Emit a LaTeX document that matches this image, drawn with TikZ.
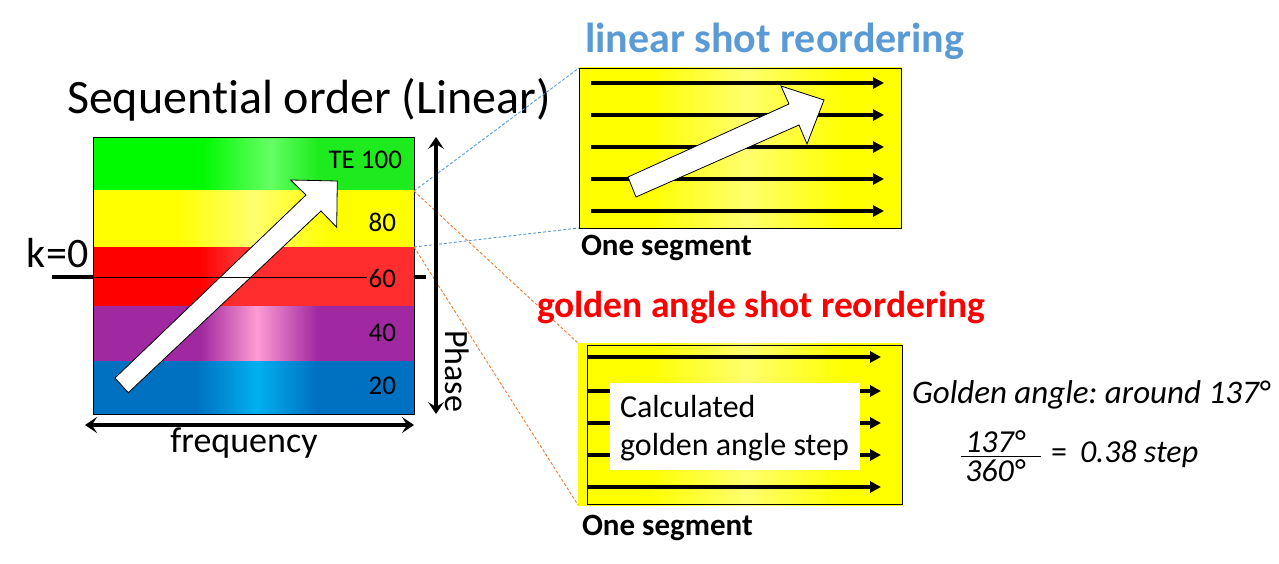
\documentclass[tikz,border=0pt]{standalone}
\usepackage{fontspec}
\setmainfont{Carlito}[Ligatures={NoCommon}]
\usetikzlibrary{arrows.meta}
\frenchspacing
\definecolor{gA}{RGB}{0,250,0}
\definecolor{gB}{RGB}{100,255,100}
\definecolor{gC}{RGB}{30,235,30}
\definecolor{yA}{RGB}{255,255,0}
\definecolor{yB}{RGB}{255,255,110}
\definecolor{rA}{RGB}{255,0,0}
\definecolor{rB}{RGB}{255,45,45}
\definecolor{pA}{RGB}{160,40,160}
\definecolor{pB}{RGB}{255,155,210}
\definecolor{bA}{RGB}{0,112,192}
\definecolor{bB}{RGB}{0,176,240}
\definecolor{titleblue}{RGB}{91,155,213}
\definecolor{dashorange}{RGB}{237,125,49}
\pgfdeclarehorizontalshading{greenband}{100bp}{color(0bp)=(gA); color(42bp)=(gA); color(52.5bp)=(gB); color(60bp)=(gC); color(100bp)=(gC)}
\pgfdeclarehorizontalshading{yellowband}{100bp}{color(0bp)=(yA); color(38bp)=(yA); color(50bp)=(yB); color(62bp)=(yA); color(100bp)=(yA)}
\pgfdeclarehorizontalshading{redband}{100bp}{color(0bp)=(rA); color(41.7bp)=(rA); color(47bp)=(rB); color(100bp)=(rB)}
\pgfdeclarehorizontalshading{purpleband}{100bp}{color(0bp)=(pA); color(41.7bp)=(pA); color(50.5bp)=(pB); color(60bp)=(pA); color(100bp)=(pA)}
\pgfdeclarehorizontalshading{blueband}{100bp}{color(0bp)=(bA); color(41bp)=(bA); color(50.5bp)=(bB); color(60bp)=(bA); color(100bp)=(bA)}
\pgfdeclarehorizontalshading{boxyellow}{100bp}{color(0bp)=(yA); color(36bp)=(yA); color(51bp)=(yB); color(66bp)=(yA); color(100bp)=(yA)}
\begin{document}
\begin{tikzpicture}[x=1pt,y=-1pt,
  band/.style={minimum width=321pt, inner sep=0pt, outer sep=0pt, anchor=north west},
  lbl/.style={inner sep=0pt, outer sep=0pt},
  shotline/.style={line width=3.5pt, -{Triangle[length=11pt,width=11pt]}},
  axisarrow/.style={line width=4pt, {Stealth[length=12pt,width=16pt,inset=5pt]}-{Stealth[length=12pt,width=16pt,inset=5pt]}},
  blockarrow/.style={fill=white, draw=black, line width=0.8pt, line join=miter},
  bluedash/.style={titleblue, line width=0.9pt, dash pattern=on 3pt off 2pt},
  orangedash/.style={dashorange, line width=0.9pt, dash pattern=on 3pt off 2pt},
  numlbl/.style={lbl, anchor=base east, font=\fontsize{27}{30}\selectfont},
  ittext/.style={lbl, font=\fontsize{32}{36}\selectfont\itshape}]
\useasboundingbox (0,0) rectangle (1279,564);
\fill[white] (0,0) rectangle (1279,564);

% left panel bands
\node[band, shading=greenband, minimum height=53pt] (bg) at (93,138) {};
\node[band, shading=yellowband, minimum height=56pt] (by) at (93,191) {};
\node[band, shading=redband, minimum height=59pt] (br) at (93,247) {};
\node[band, shading=purpleband, minimum height=55pt] (bp) at (93,306) {};
\node[band, shading=blueband, minimum height=53pt] (bb) at (93,361) {};
\draw[line width=1pt] (bg.north west) rectangle (bb.south east);

% white block arrow (left)
\draw[blockarrow] (115,378) -- (306,195) -- (290.7,180) -- (337.3,181) -- (336.7,227.3) -- (321,211) -- (128.3,392.7) -- cycle;

% k=0 line
\coordinate (k0l) at (52,277);
\coordinate (k0a) at (93,277);
\coordinate (k0b) at (367,277);
\coordinate (k0c) at (414,277);
\coordinate (k0r) at (426,277);
\draw[line width=4pt] (k0l) -- (k0a);
\draw[line width=0.8pt] (k0a) -- (k0b);
\draw[line width=4pt] (k0c) -- (k0r);
\node[lbl, anchor=base west, font=\fontsize{42}{46}\selectfont] (k0) at (27,267) {k=0};

% numbers
\node[numlbl] (te) at (402,169) {TE 100};
\node[numlbl] (n80) at (396,231) {80};
\node[numlbl] (n60) at (396,287) {60};
\node[numlbl] (n40) at (396,341) {40};
\node[numlbl] (n20) at (396,394) {20};

% title
\node[lbl, anchor=base west, font=\fontsize{48}{52}\selectfont] (title) at (67,114) {Sequential order (Linear)};

% right boxes
\node[shading=boxyellow, draw=black, line width=0.8pt, minimum width=322pt, minimum height=160pt, inner sep=0pt, outer sep=0pt, anchor=north west] (lin) at (579,68) {};
\node[shading=boxyellow, minimum width=324pt, minimum height=162pt, inner sep=0pt, outer sep=0pt, anchor=north west] (gold) at (578,343) {};
\draw[line width=0.8pt] (587,345) rectangle (902,504);

% dashed zoom lines
\draw[bluedash] (by.north east) -- (lin.north west);
\draw[bluedash] (by.south east) -- (lin.south west);
\draw[orangedash] (by.north east) -- (gold.north west);
\draw[orangedash] (by.south east) -- (gold.south west);

% axes
\coordinate (ph1) at (436,137);
\coordinate (ph2) at (436,414);
\draw[axisarrow] (ph1) -- (ph2);
\node[lbl, rotate=-90, anchor=base, font=\fontsize{34}{38}\selectfont] (phase) at (445,371) {Phase};
\coordinate (fr1) at (85,425);
\coordinate (fr2) at (414,425);
\draw[axisarrow] (fr1) -- (fr2);
\node[lbl, anchor=base, font=\fontsize{36}{40}\selectfont] (freq) at (244,452) {frequency};

% linear shot reordering
\node[lbl, anchor=base west, text=titleblue, font=\fontsize{42}{46}\selectfont\bfseries] (lintitle) at (585,53) {linear shot reordering};
\foreach \yy in {83,115,147,179,211} {
  \draw[shotline] (591,\yy) -- (884,\yy);
}
\draw[blockarrow] (628,177) -- (789,104) -- (781,86) -- (824,100) -- (807,144) -- (799,125) -- (636,197) -- cycle;
\node[lbl, anchor=base west, font=\fontsize{31}{34}\selectfont\bfseries] (seg1) at (581,255) {One segment};

% golden angle shot reordering
\node[lbl, anchor=base west, text=red, font=\fontsize{37.5}{42}\selectfont\bfseries] (goldtitle) at (537,317) {golden angle shot reordering};
\foreach \yy in {357,391,423,455,487} {
  \draw[shotline] (587,\yy) -- (881,\yy);
}
\node[fill=white, minimum width=250pt, minimum height=87pt, inner sep=0pt, outer sep=0pt, anchor=north west] (calcbox) at (610,383) {};
\node[lbl, anchor=base west, font=\fontsize{32}{38}\selectfont] (calc1) at (620,417) {Calculated};
\node[lbl, anchor=base west, font=\fontsize{32}{38}\selectfont] (calc2) at (620,455) {golden angle step};
\node[lbl, anchor=base west, font=\fontsize{31}{34}\selectfont\bfseries] (seg2) at (582,535) {One segment};

% golden angle text
\node[ittext, anchor=base west, font=\fontsize{33}{36}\selectfont\itshape] (ga) at (912,403) {Golden angle: around 137°};
\node[ittext, anchor=base] (f137) at (995,452) {137°};
\node[ittext, anchor=base] (f360) at (995,481) {360°};
\coordinate (fl1) at (961,456);
\coordinate (fl2) at (1041,456);
\draw[line width=1pt] (fl1) -- (fl2);
\node[lbl, anchor=base, font=\fontsize{32}{36}\selectfont] (eq) at (1059,462) {=};
\node[ittext, anchor=base west] (val) at (1080,462) {0.38 step};
\end{tikzpicture}
\end{document}
